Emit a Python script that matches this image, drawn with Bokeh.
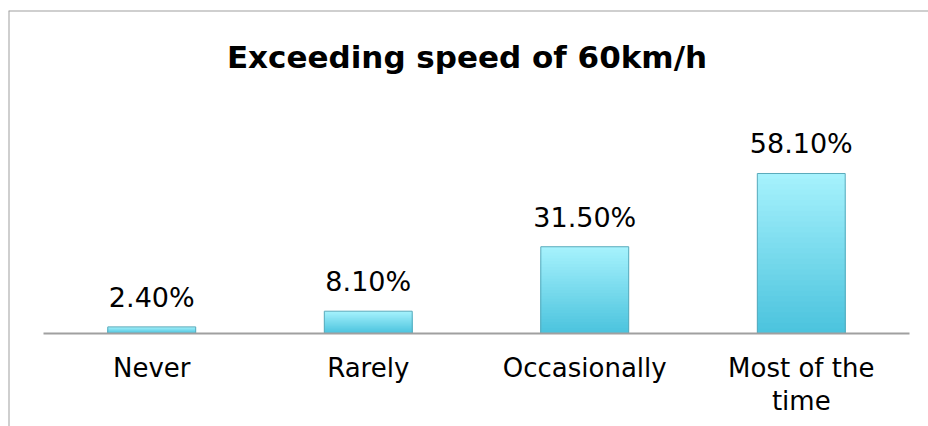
from bokeh.plotting import figure
from bokeh.models import Range1d, LinearAxis, FixedTicker, Span, Label, ColumnDataSource
from bokeh.core.properties import value
from bokeh.embed import file_html
from bokeh.resources import INLINE

# ---- data ----
categories = ["Never", "Rarely", "Occasionally", "Most of the\ntime"]
values = [2.4, 8.1, 31.5, 58.1]
value_labels = ["2.40%", "8.10%", "31.50%", "58.10%"]
title_text = "Exceeding speed of 60km/h"

FONT = "DejaVu Sans"

xs = [i + 0.5 for i in range(len(categories))]

x0, x1 = -0.1617, 4.0877
y0, y1 = -33.77, 117.28
p = figure(width=928, height=426, output_backend="svg", toolbar_location=None,
           x_range=Range1d(x0, x1), y_range=Range1d(y0, y1),
           min_border=0, min_border_left=8, min_border_right=0,
           min_border_top=10, min_border_bottom=0)
p.outline_line_color = None
p.xgrid.visible = False
p.ygrid.visible = False
p.xaxis.visible = False
p.yaxis.visible = False
p.background_fill_color = "white"
p.border_fill_color = "white"

# chart border (left & top only visible in window)
p.add_layout(Span(location=x0, dimension="height", line_color="#a0a0a0", line_width=2))
p.add_layout(Span(location=y1, dimension="width", line_color="#a0a0a0", line_width=2))

# gradient bars: overlapping bars, longest (lightest) first
N = 30
top_c = (0xa6, 0xf2, 0xfd)
bot_c = (0x4c, 0xc4, 0xde)
sx, st, sc = [], [], []
for k in range(N - 1, -1, -1):
    t = k / (N - 1)
    col = "#%02x%02x%02x" % tuple(int(b + (a - b) * t) for a, b in zip(top_c, bot_c))
    for x, v in zip(xs, values):
        sx.append(x)
        st.append(v * (k + 1) / N)
        sc.append(col)
p.vbar(x=sx, bottom=0, top=st, width=0.406, fill_color=sc, line_color=None)
# bar outline
p.vbar(x=xs, bottom=0, top=values, width=0.406, fill_color=None,
       line_color="#5aaabb", line_width=1)

# value labels
src = ColumnDataSource(dict(x=xs, y=values, t=value_labels))
p.text(x="x", y="y", text="t", source=src, text_align="center", text_baseline="bottom",
       y_offset=-14, text_font=value(FONT), text_font_size="27px", text_color="#000000")

# category axis at y = 0
ax = LinearAxis(fixed_location=0, bounds=(0, 4))
ax.ticker = FixedTicker(ticks=xs)
ax.major_label_overrides = {x: c for x, c in zip(xs, categories)}
ax.axis_line_color = "#a0a0a0"
ax.axis_line_width = 2
ax.major_tick_line_color = None
ax.minor_tick_line_color = None
ax.major_label_standoff = 14
ax.major_label_text_font = FONT
ax.major_label_text_font_size = "26px"
ax.major_label_text_color = "#000000"
ax.major_label_text_line_height = 1.1
p.add_layout(ax, "below")

# title
p.add_layout(Label(x=1.956, y=100.3, text=title_text, text_align="center", text_baseline="middle",
                   text_font=FONT, text_font_size="31px", text_font_style="bold",
                   text_color="#000000"))

open("out.html", "w").write(file_html(p, INLINE))
